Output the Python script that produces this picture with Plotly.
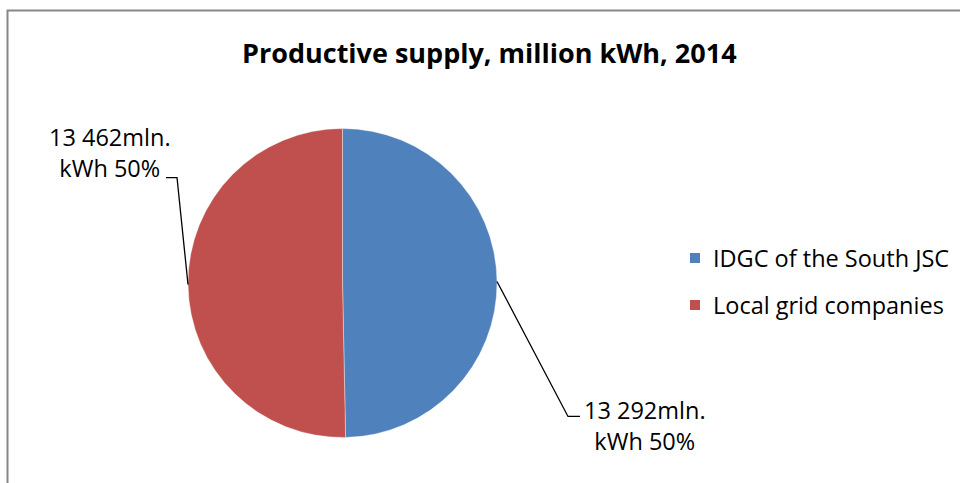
import math
import plotly.graph_objects as go

# ---- data ----
labels = ["IDGC of the South JSC", "Local grid companies"]
values = [13292, 13462]
colors = ["#4F81BD", "#C0504D"]
title_text = "Productive supply, million kWh, 2014"

W, H = 960, 483
FONT = "Open Sans"

# pie geometry (pixels)
cx, cy, r = 342.5, 283.0, 154.5

total = sum(values)


def fmt(v):
    pct = round(100 * v / total)
    return f"{v // 1000} {v % 1000:03d}mln.<br>kWh {pct}%"


def px(x):
    return x / W


def py(y):
    return 1 - y / H


fig = go.Figure()
fig.add_trace(go.Pie(
    labels=labels, values=values,
    marker=dict(colors=colors, line=dict(color="rgba(255,255,255,0.6)", width=0.6)),
    sort=False, direction="clockwise", rotation=0,
    textinfo="none", hoverinfo="label+value+percent",
    showlegend=False,
    domain=dict(x=[px(cx - r), px(cx + r)], y=[py(cy + r), py(cy - r)]),
))

shapes = []
annotations = []

# chart border (top and left visible)
shapes.append(dict(type="rect", xref="paper", yref="paper",
                   x0=px(7.5), y0=py(500), x1=px(980), y1=py(10.5),
                   line=dict(color="#878787", width=2), fillcolor="rgba(0,0,0,0)"))

# leader lines + labels computed from slice mid-angles
cum = 0
label_cfg = [
    dict(knee=(71, 135), hseg=12, text_dx=65, text_dy=9),
    dict(knee=(-11, -107), hseg=-11, text_dx=-56, text_dy=-25),
]
for i, v in enumerate(values):
    mid = (cum + v / 2) / total * 2 * math.pi
    cum += v
    ax = cx + r * math.sin(mid)
    ay = cy - r * math.cos(mid)
    cfg = label_cfg[i]
    kx, ky = ax + cfg["knee"][0], ay + cfg["knee"][1]
    ex = kx + cfg["hseg"]
    shapes.append(dict(type="path", xref="paper", yref="paper",
                       path=f"M {px(ax)},{py(ay)} L {px(kx)},{py(ky)} L {px(ex)},{py(ky)}",
                       line=dict(color="black", width=1.3)))
    annotations.append(dict(xref="paper", yref="paper",
                            x=px(ex + cfg["text_dx"]),
                            y=py(ky + cfg["text_dy"]),
                            text=fmt(v), showarrow=False, align="center",
                            xanchor="center", yanchor="middle",
                            font=dict(family=FONT, size=23.5, color="black")))

# legend drawn manually
leg_y = [258, 305]
for i, lab in enumerate(labels):
    yc = leg_y[i]
    shapes.append(dict(type="rect", xref="paper", yref="paper",
                       x0=px(690), x1=px(700), y0=py(yc + 5), y1=py(yc - 5),
                       fillcolor=colors[i], line=dict(width=0)))
    annotations.append(dict(xref="paper", yref="paper", x=px(711), y=py(yc),
                            text=lab, showarrow=False, xanchor="left", yanchor="middle",
                            font=dict(family=FONT, size=23.5, color="black")))

# title
annotations.append(dict(xref="paper", yref="paper", x=px(490), y=py(52),
                        text=f"<b>{title_text}</b>", showarrow=False,
                        xanchor="center", yanchor="middle",
                        font=dict(family=FONT, size=27, color="black")))

fig.update_layout(
    width=W, height=H,
    margin=dict(l=0, r=0, t=0, b=0),
    paper_bgcolor="white", plot_bgcolor="white",
    shapes=shapes, annotations=annotations,
)

fig.write_html("out.html", config={"displayModeBar": False},
               post_script="document.body.style.margin='0';document.body.style.overflow='hidden';")
